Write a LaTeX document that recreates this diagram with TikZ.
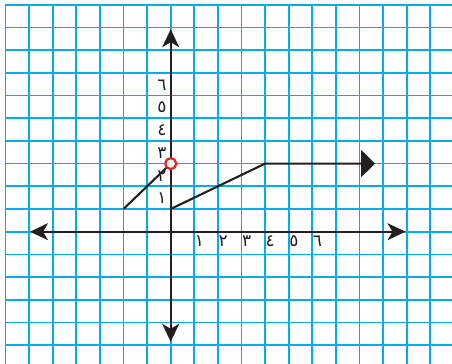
\documentclass[tikz,border=0pt]{standalone}
\usepackage{fontspec}
\newfontfamily\arabicfont[Script=Arabic]{DejaVu Sans}
\usetikzlibrary{arrows.meta}
\definecolor{gridblue}{RGB}{0,174,239}
\definecolor{ptred}{RGB}{237,28,36}
\definecolor{inkblack}{RGB}{35,31,32}
\begin{document}
\begin{tikzpicture}[x=23.6bp, y=22.7bp,
  >={Stealth[length=18bp, width=17bp, inset=5bp]},
  axis/.style={line width=1.8bp, inkblack, <->},
  graphline/.style={line width=2.1bp, inkblack},
  digit/.style={font=\arabicfont\fontsize{17}{17}\selectfont, text=inkblack, inner sep=0pt}]
\useasboundingbox (-7.233,-5.828) rectangle (11.919,10.207);
% malha quadriculada
\begin{scope}
  \clip (-7.233,-5.828) rectangle (11.919,10.207);
  \foreach \i in {-7,...,11}
    \draw[gridblue, line width=1.7bp] (\i,-6) -- (\i,10);
  \foreach \j in {-5,...,10}
    \draw[gridblue, line width=1.7bp] (-7,\j) -- (12,\j);
\end{scope}
% numeros dos eixos
\foreach \k/\d in {1/١, 2/٢, 3/٣, 4/٤, 5/٥, 6/٦} {
  \node[digit] (x\k) at (\k+0.22,-0.42) {\d};
  \node[digit] (y\k) at (-0.37,\k+0.47) {\d};
}
% eixos
\draw[axis] (-5.96,0) -- (9.95,0);
\draw[axis] (0,-4.85) -- (0,8.92);
% grafico
\coordinate (P) at (-2,1);
\coordinate (Q) at (0,3);
\coordinate (R) at (0,1);
\coordinate (S) at (4,3);
\coordinate (T) at (8.66,3);
\draw[graphline] (P) -- (Q);
\draw[graphline, -{Triangle[length=14bp, width=27bp]}] (R) -- (S) -- (T);
\draw[ptred, line width=2.2bp, fill=white] (Q) circle[radius=5.5bp];
\end{tikzpicture}
\end{document}
